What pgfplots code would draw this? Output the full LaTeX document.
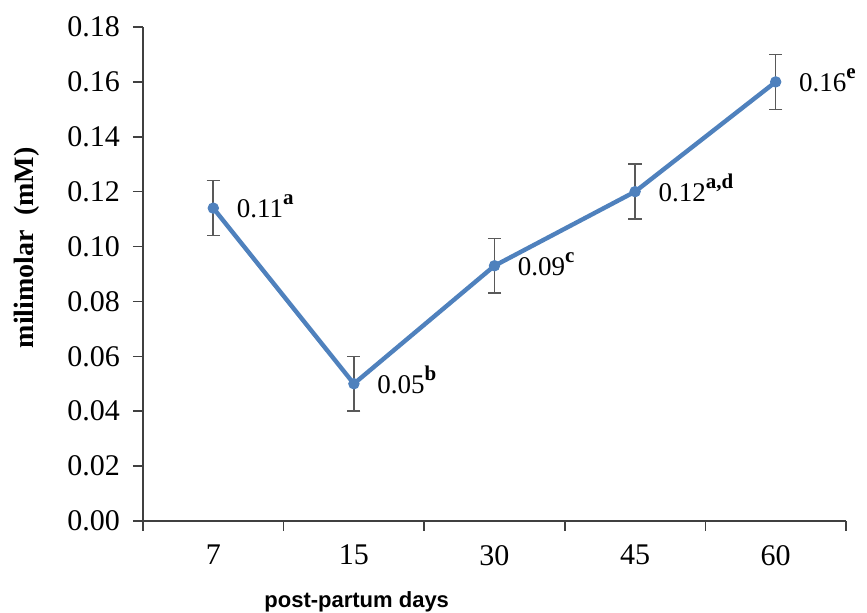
\documentclass[border=0pt]{standalone}
\usepackage{pgfplots}
\pgfplotsset{compat=1.18}
\usepackage{pgfplotstable}
\usepackage{fontspec}
\setmainfont{Liberation Serif}
\newfontfamily\arialfont{Liberation Sans}
\definecolor{xlblue}{RGB}{79,129,189}
\definecolor{errgray}{RGB}{89,89,89}
\definecolor{axgray}{RGB}{64,64,64}
\newcommand{\lsup}[1]{\raisebox{6.3pt}{\fontsize{10.5}{12}\selectfont\bfseries #1}}

\pgfplotstableread{
x y err label
0 0.114 0.01 {0.11\lsup{a}}
1 0.050 0.01 {0.05\lsup{b}}
2 0.093 0.01 {0.09\lsup{c}}
3 0.120 0.01 {0.12\lsup{a,d}}
4 0.160 0.01 {0.16\lsup{e}}
}\data

\begin{document}
\begin{tikzpicture}
\path[use as bounding box] (-71.5pt,-46pt) rectangle (362pt,260.5pt);
\begin{axis}[
  scale only axis, width=351.5pt, height=247pt,
  at={(0,0)}, anchor=south west,
  xmin=-0.5, xmax=4.5, ymin=0, ymax=0.18,
  axis lines=left,
  axis line style={-, draw=axgray, line width=0.8pt},
  ytick={0,0.02,0.04,0.06,0.08,0.10,0.12,0.14,0.16,0.18},
  yticklabel style={xshift=-3pt, /pgf/number format/.cd, fixed, fixed zerofill, precision=2, assume math mode=true},
  tick align=outside, major tick length=5pt,
  tick style={draw=axgray, line width=0.8pt},
  xtick={-0.5,0.5,1.5,2.5,3.5,4.5}, xticklabels={},
  extra x ticks={0,1,2,3,4}, extra x tick labels={7,15,30,45,60},
  extra x tick style={major tick length=0pt, xticklabel style={yshift=-8.5pt}},
  tick label style={font=\fontsize{15}{17}\selectfont, text=black},
  ylabel={milimolar\ \ (mM)},
  ylabel style={font=\fontsize{14}{16}\selectfont\bfseries, at={(axis description cs:-0.165,0.553)}, anchor=center},
  xlabel={post-partum days},
  xlabel style={font=\arialfont\bfseries\fontsize{11}{13}\selectfont, at={(axis description cs:0.304,-0.164)}, anchor=center},
  clip=false,
]
\addplot[color=xlblue, line width=2.2pt, mark=*, mark size=2.6pt,
  mark options={fill=xlblue, draw=xlblue, line width=0.5pt},
  nodes near coords, point meta=explicit symbolic,
  every node near coord/.append style={anchor=base west, inner sep=0pt, xshift=11.5pt, yshift=-4.7pt, font=\fontsize{13.5}{15}\selectfont, text=black},
  error bars/.cd, y dir=both, y explicit,
  error bar style={draw=errgray, line width=0.8pt},
  error mark options={rotate=90, mark size=3.3pt, draw=errgray, line width=0.8pt}]
  table[x=x, y=y, y error=err, meta=label] {\data};
\end{axis}
\end{tikzpicture}
\end{document}
